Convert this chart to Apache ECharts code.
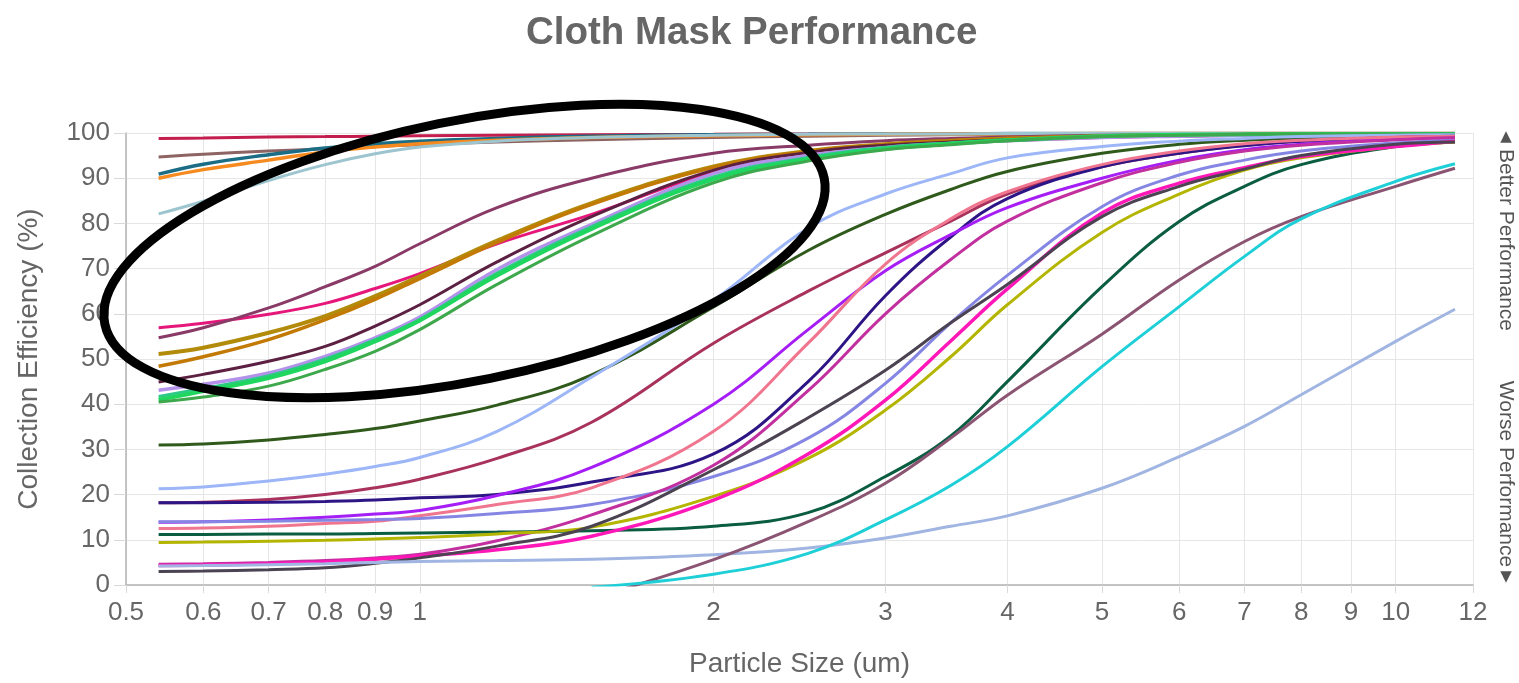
<!DOCTYPE html>
<html>
<head>
<meta charset="utf-8">
<title>Cloth Mask Performance</title>
<script src="https://cdn.jsdelivr.net/npm/echarts@6/dist/echarts.min.js"></script>
<style>
  html, body { margin: 0; padding: 0; background: #ffffff; }
  #chart { width: 1519px; height: 683px; }
</style>
</head>
<body>
<div id="chart"></div>
<script>
// Particle sizes (um) at which every fabric was measured
const sizes = [0.54, 0.6, 0.7, 0.8, 0.9, 1, 1.2, 1.5, 2, 2.5, 3, 3.5, 4, 5, 6, 7, 8, 10, 11.5];

// Axis tick values
const xTicks = [0.5, 0.6, 0.7, 0.8, 0.9, 1, 2, 3, 4, 5, 6, 7, 8, 9, 10, 12];
const yTicks = [0, 10, 20, 30, 40, 50, 60, 70, 80, 90, 100];

// Collection efficiency (%) per fabric, one value per entry in `sizes` (null = not measured)
const mask01 = [98.8, 98.9, 99.1, 99.2, 99.3, 99.4, 99.5, 99.6, 99.7, 99.8, 99.8, 99.9, 99.9, 99.9, 99.9, 99.9, 99.9, 99.9, 99.9];
const mask02 = [94.7, 95.3, 96.0, 96.5, 97.0, 97.4, 98.0, 98.5, 99.0, 99.3, 99.5, 99.6, 99.7, 99.7, 99.8, 99.8, 99.8, 99.8, 99.8];
const mask03 = [90.9, 93.1, 95.2, 96.7, 97.6, 98.2, 98.8, 99.3, 99.6, 99.7, 99.8, 99.8, 99.9, 99.9, 99.9, 99.9, 99.9, 99.9, 99.9];
const mask04 = [90.0, 91.9, 94.0, 95.8, 96.9, 97.6, 98.4, 99.0, 99.4, 99.6, 99.7, 99.8, 99.8, 99.9, 99.9, 99.9, 99.9, 99.9, 99.9];
const mask05 = [82.1, 84.9, 89.5, 93.0, 95.4, 96.9, 98.2, 99.0, 99.5, 99.7, 99.8, 99.8, 99.9, 99.9, 99.9, 99.9, 99.9, 99.9, 99.9];
const mask06 = [56.9, 57.9, 59.9, 62.3, 65.6, 68.9, 75.5, 82.0, 91.3, 95.0, 96.8, 97.7, 98.3, 99.0, 99.3, 99.5, 99.6, 99.7, 99.8];
const mask07 = [54.7, 56.9, 61.3, 66.0, 70.5, 75.5, 83.5, 90.0, 95.5, 97.3, 98.3, 98.8, 99.1, 99.5, 99.6, 99.7, 99.8, 99.8, 99.8];
const mask08 = [51.1, 52.5, 55.8, 59.5, 63.9, 68.3, 76.2, 84.5, 92.6, 96.0, 97.5, 98.3, 98.8, 99.3, 99.5, 99.6, 99.7, 99.8, 99.8];
const mask09 = [48.4, 50.5, 54.3, 58.7, 63.2, 67.8, 75.8, 84.2, 92.4, 95.9, 97.4, 98.2, 98.7, 99.3, 99.5, 99.6, 99.7, 99.8, 99.8];
const mask10 = [44.9, 46.6, 49.5, 52.8, 57.3, 62.0, 71.5, 81.5, 91.8, 95.7, 97.3, 98.0, 98.5, 99.1, 99.4, 99.5, 99.6, 99.7, 99.7];
const mask11 = [43.1, 44.4, 46.9, 50.6, 54.7, 59.3, 69.8, 79.8, 91.0, 95.0, 96.8, 97.7, 98.3, 99.0, 99.3, 99.5, 99.6, 99.7, 99.7];
const mask12 = [41.7, 43.5, 46.3, 50.0, 54.3, 58.8, 69.0, 79.3, 90.3, 94.6, 96.8, 97.8, 98.5, 99.3, 99.6, 99.7, 99.8, 99.8, 99.8];
const mask13 = [41.0, 42.9, 45.8, 49.5, 53.9, 58.5, 68.5, 78.8, 89.8, 94.2, 96.5, 97.6, 98.4, 99.3, 99.6, 99.7, 99.8, 99.8, 99.8];
const mask14 = [40.5, 41.6, 44.0, 47.7, 51.7, 56.5, 66.5, 77.3, 89.0, 93.8, 96.3, 97.4, 98.3, 99.2, 99.5, 99.7, 99.8, 99.8, 99.8];
const mask15 = [31.0, 31.2, 32.1, 33.3, 34.6, 36.3, 39.8, 46.5, 61.5, 74.0, 82.0, 87.5, 91.5, 95.5, 97.5, 98.4, 98.9, 99.3, 99.5];
const mask16 = [21.3, 21.7, 23.0, 24.5, 26.2, 28.2, 34.0, 46.0, 63.0, 79.0, 86.5, 91.0, 94.5, 97.0, 98.2, 98.8, 99.2, 99.5, 99.6];
const mask17 = [18.2, 18.3, 18.9, 20.0, 21.5, 23.4, 28.0, 36.0, 53.5, 65.0, 73.5, 80.5, 86.5, 92.5, 95.5, 97.3, 98.2, 99.0, 99.2];
const mask18 = [18.2, 18.2, 18.3, 18.5, 18.8, 19.3, 20.0, 22.8, 29.0, 45.0, 64.0, 77.0, 85.5, 92.5, 95.5, 97.2, 98.2, 99.0, 99.3];
const mask19 = [13.9, 14.0, 14.4, 15.0, 15.7, 16.5, 19.8, 26.0, 40.0, 56.5, 69.5, 77.5, 83.5, 90.0, 94.0, 96.3, 97.5, 98.6, 99.0];
const mask20 = [12.5, 12.6, 13.0, 13.6, 14.1, 15.3, 17.8, 21.5, 34.0, 53.5, 71.0, 81.0, 87.0, 93.0, 96.0, 97.6, 98.4, 99.1, 99.3];
const mask21 = [14.0, 14.0, 14.1, 14.3, 14.5, 14.7, 15.8, 17.8, 24.0, 32.5, 44.6, 58.0, 68.5, 83.7, 90.7, 94.0, 96.0, 97.8, 98.4];
const mask22 = [4.6, 4.7, 5.0, 5.4, 6.0, 6.8, 9.8, 15.5, 26.5, 43.0, 60.0, 72.0, 80.5, 89.0, 93.5, 96.0, 97.3, 98.5, 99.0];
const mask23 = [11.2, 11.2, 11.3, 11.3, 11.4, 11.5, 11.7, 12.0, 13.0, 16.0, 24.0, 33.0, 45.0, 66.0, 80.4, 88.2, 93.0, 97.0, 98.0];
const mask24 = [9.4, 9.5, 9.7, 9.9, 10.2, 10.5, 11.3, 12.8, 19.6, 28.0, 38.7, 50.5, 62.0, 78.0, 86.5, 91.8, 94.5, 97.0, 98.0];
const mask25 = [4.3, 4.4, 4.7, 5.1, 5.7, 6.4, 7.8, 10.8, 18.8, 29.0, 40.9, 54.0, 65.5, 82.3, 88.9, 92.3, 94.8, 97.0, 98.2];
const mask26 = [3.0, 3.1, 3.4, 3.8, 4.8, 6.0, 8.6, 13.0, 25.5, 37.0, 47.5, 58.0, 66.5, 81.5, 88.2, 92.0, 95.0, 97.5, 98.0];
const mask27 = [4.2, 4.3, 4.5, 4.7, 5.0, 5.2, 5.4, 5.7, 6.7, 8.2, 10.4, 13.0, 15.3, 21.4, 28.4, 35.1, 42.1, 53.9, 61.0];
const mask28 = [null, null, null, null, null, null, null, -3.0, 5.6, 14.0, 22.5, 32.5, 42.0, 55.5, 67.5, 76.0, 81.5, 88.2, 92.2];
const mask29 = [null, null, null, null, null, null, null, -0.5, 2.4, 7.0, 14.4, 22.0, 30.6, 48.3, 61.6, 72.7, 81.0, 89.3, 93.2];

const maskValues = [mask01, mask02, mask03, mask04, mask05, mask06, mask07, mask08, mask09, mask10,
  mask11, mask12, mask13, mask14, mask15, mask16, mask17, mask18, mask19, mask20,
  mask21, mask22, mask23, mask24, mask25, mask26, mask27, mask28, mask29];

// Line colours and widths, in the same order as maskValues
const lineColors = ['#c41e4e', '#8d6363', '#1b6d85', '#f68a1e', '#9cc5cf', '#e6177a', '#8a3a66', '#b38b0b', '#c27a04', '#5c2142',
  '#b393ea', '#2ec98a', '#1fd65f', '#3ea84c', '#2f5a1c', '#9cb6f7', '#a8325c', '#2d1586', '#a51ef5', '#f0758f',
  '#8586e3', '#c22f9f', '#0b5d41', '#b4b500', '#ff17b8', '#4b4351', '#a1b5e2', '#8b5472', '#1ecfd8'];
const lineWidths = [3, 3, 3.5, 3.5, 3, 3, 3, 4, 3.5, 3, 3.5, 3, 4, 3, 3, 3, 3, 3, 3, 3, 3, 3, 3, 3, 3.5, 3, 3, 3, 3];

const FONT = "'Liberation Sans', Arial, 'DejaVu Sans', sans-serif";
const TEXT = '#666666';
const GRID = '#e6e6e6';

const series = maskValues.map((vals, i) => ({
  name: 'Mask ' + String(i + 1).padStart(2, '0'),
  type: 'line',
  data: sizes.map((s, j) => [s, vals[j]]).filter(p => p[1] !== null),
  smooth: 0.4,
  showSymbol: false,
  symbol: 'none',
  clip: true,
  lineStyle: { color: lineColors[i], width: lineWidths[i] },
  itemStyle: { color: lineColors[i] },
  emphasis: { disabled: true },
  silent: true
}));

const sideFont = "21px 'Liberation Sans', Arial, 'DejaVu Sans', sans-serif";

const chart = echarts.init(document.getElementById('chart'), null, { renderer: 'canvas' });

chart.setOption({
  animation: false,
  backgroundColor: '#ffffff',
  title: {
    text: 'Cloth Mask Performance',
    left: 521,
    top: 9,
    textStyle: { fontFamily: FONT, fontSize: 38.5, fontWeight: 'bold', color: TEXT }
  },
  grid: { left: 126, right: 46, top: 133, bottom: 97 },
  xAxis: {
    type: 'log',
    logBase: 10,
    min: 0.5,
    max: 12,
    name: 'Particle Size (um)',
    nameLocation: 'middle',
    nameGap: 65,
    nameTextStyle: { fontFamily: FONT, fontSize: 28, color: TEXT },
    axisLine: { show: true, lineStyle: { color: '#b3b3b3', width: 1.5 } },
    axisTick: { show: true, length: 8, customValues: xTicks, lineStyle: { color: '#d9d9d9' } },
    axisLabel: {
      customValues: xTicks,
      margin: 15,
      fontFamily: FONT, fontSize: 26, color: TEXT,
      formatter: v => String(+(+v).toPrecision(3))
    },
    splitLine: { show: true, lineStyle: { color: GRID, width: 1 } },
    minorTick: { show: false },
    minorSplitLine: { show: false }
  },
  yAxis: {
    type: 'value',
    min: 0,
    max: 100,
    interval: 10,
    name: 'Collection Efficiency (%)',
    nameLocation: 'middle',
    nameGap: 83,
    nameRotate: 90,
    nameTextStyle: { fontFamily: FONT, fontSize: 28, color: TEXT },
    axisLine: { show: true, lineStyle: { color: '#b3b3b3', width: 1.5 } },
    axisTick: { show: true, length: 12, lineStyle: { color: '#d9d9d9' } },
    axisLabel: {
      customValues: yTicks,
      margin: 16,
      fontFamily: FONT, fontSize: 26, color: TEXT
    },
    splitLine: { show: true, lineStyle: { color: GRID, width: 1 } }
  },
  graphic: [
    {
      type: 'ellipse',
      x: 464.5,
      y: 251,
      rotation: 0.1996,
      shape: { cx: 0, cy: 0, rx: 367, ry: 130 },
      style: { fill: 'none', stroke: '#000000', lineWidth: 9 },
      z: 100,
      silent: true
    },
    {
      type: 'text', x: 1506, y: 137,
      style: { text: '\u25B2', font: "15px 'DejaVu Sans', sans-serif", fill: '#555555', align: 'center', verticalAlign: 'middle' },
      silent: true
    },
    {
      type: 'text', x: 1506, y: 240, rotation: -Math.PI / 2,
      style: { text: 'Better Performance', font: sideFont, fill: '#555555', align: 'center', verticalAlign: 'middle' },
      silent: true
    },
    {
      type: 'text', x: 1506, y: 474, rotation: -Math.PI / 2,
      style: { text: 'Worse Performance', font: sideFont, fill: '#555555', align: 'center', verticalAlign: 'middle' },
      silent: true
    },
    {
      type: 'text', x: 1506, y: 577,
      style: { text: '\u25BC', font: "15px 'DejaVu Sans', sans-serif", fill: '#555555', align: 'center', verticalAlign: 'middle' },
      silent: true
    }
  ],
  series: series
});
</script>
</body>
</html>
